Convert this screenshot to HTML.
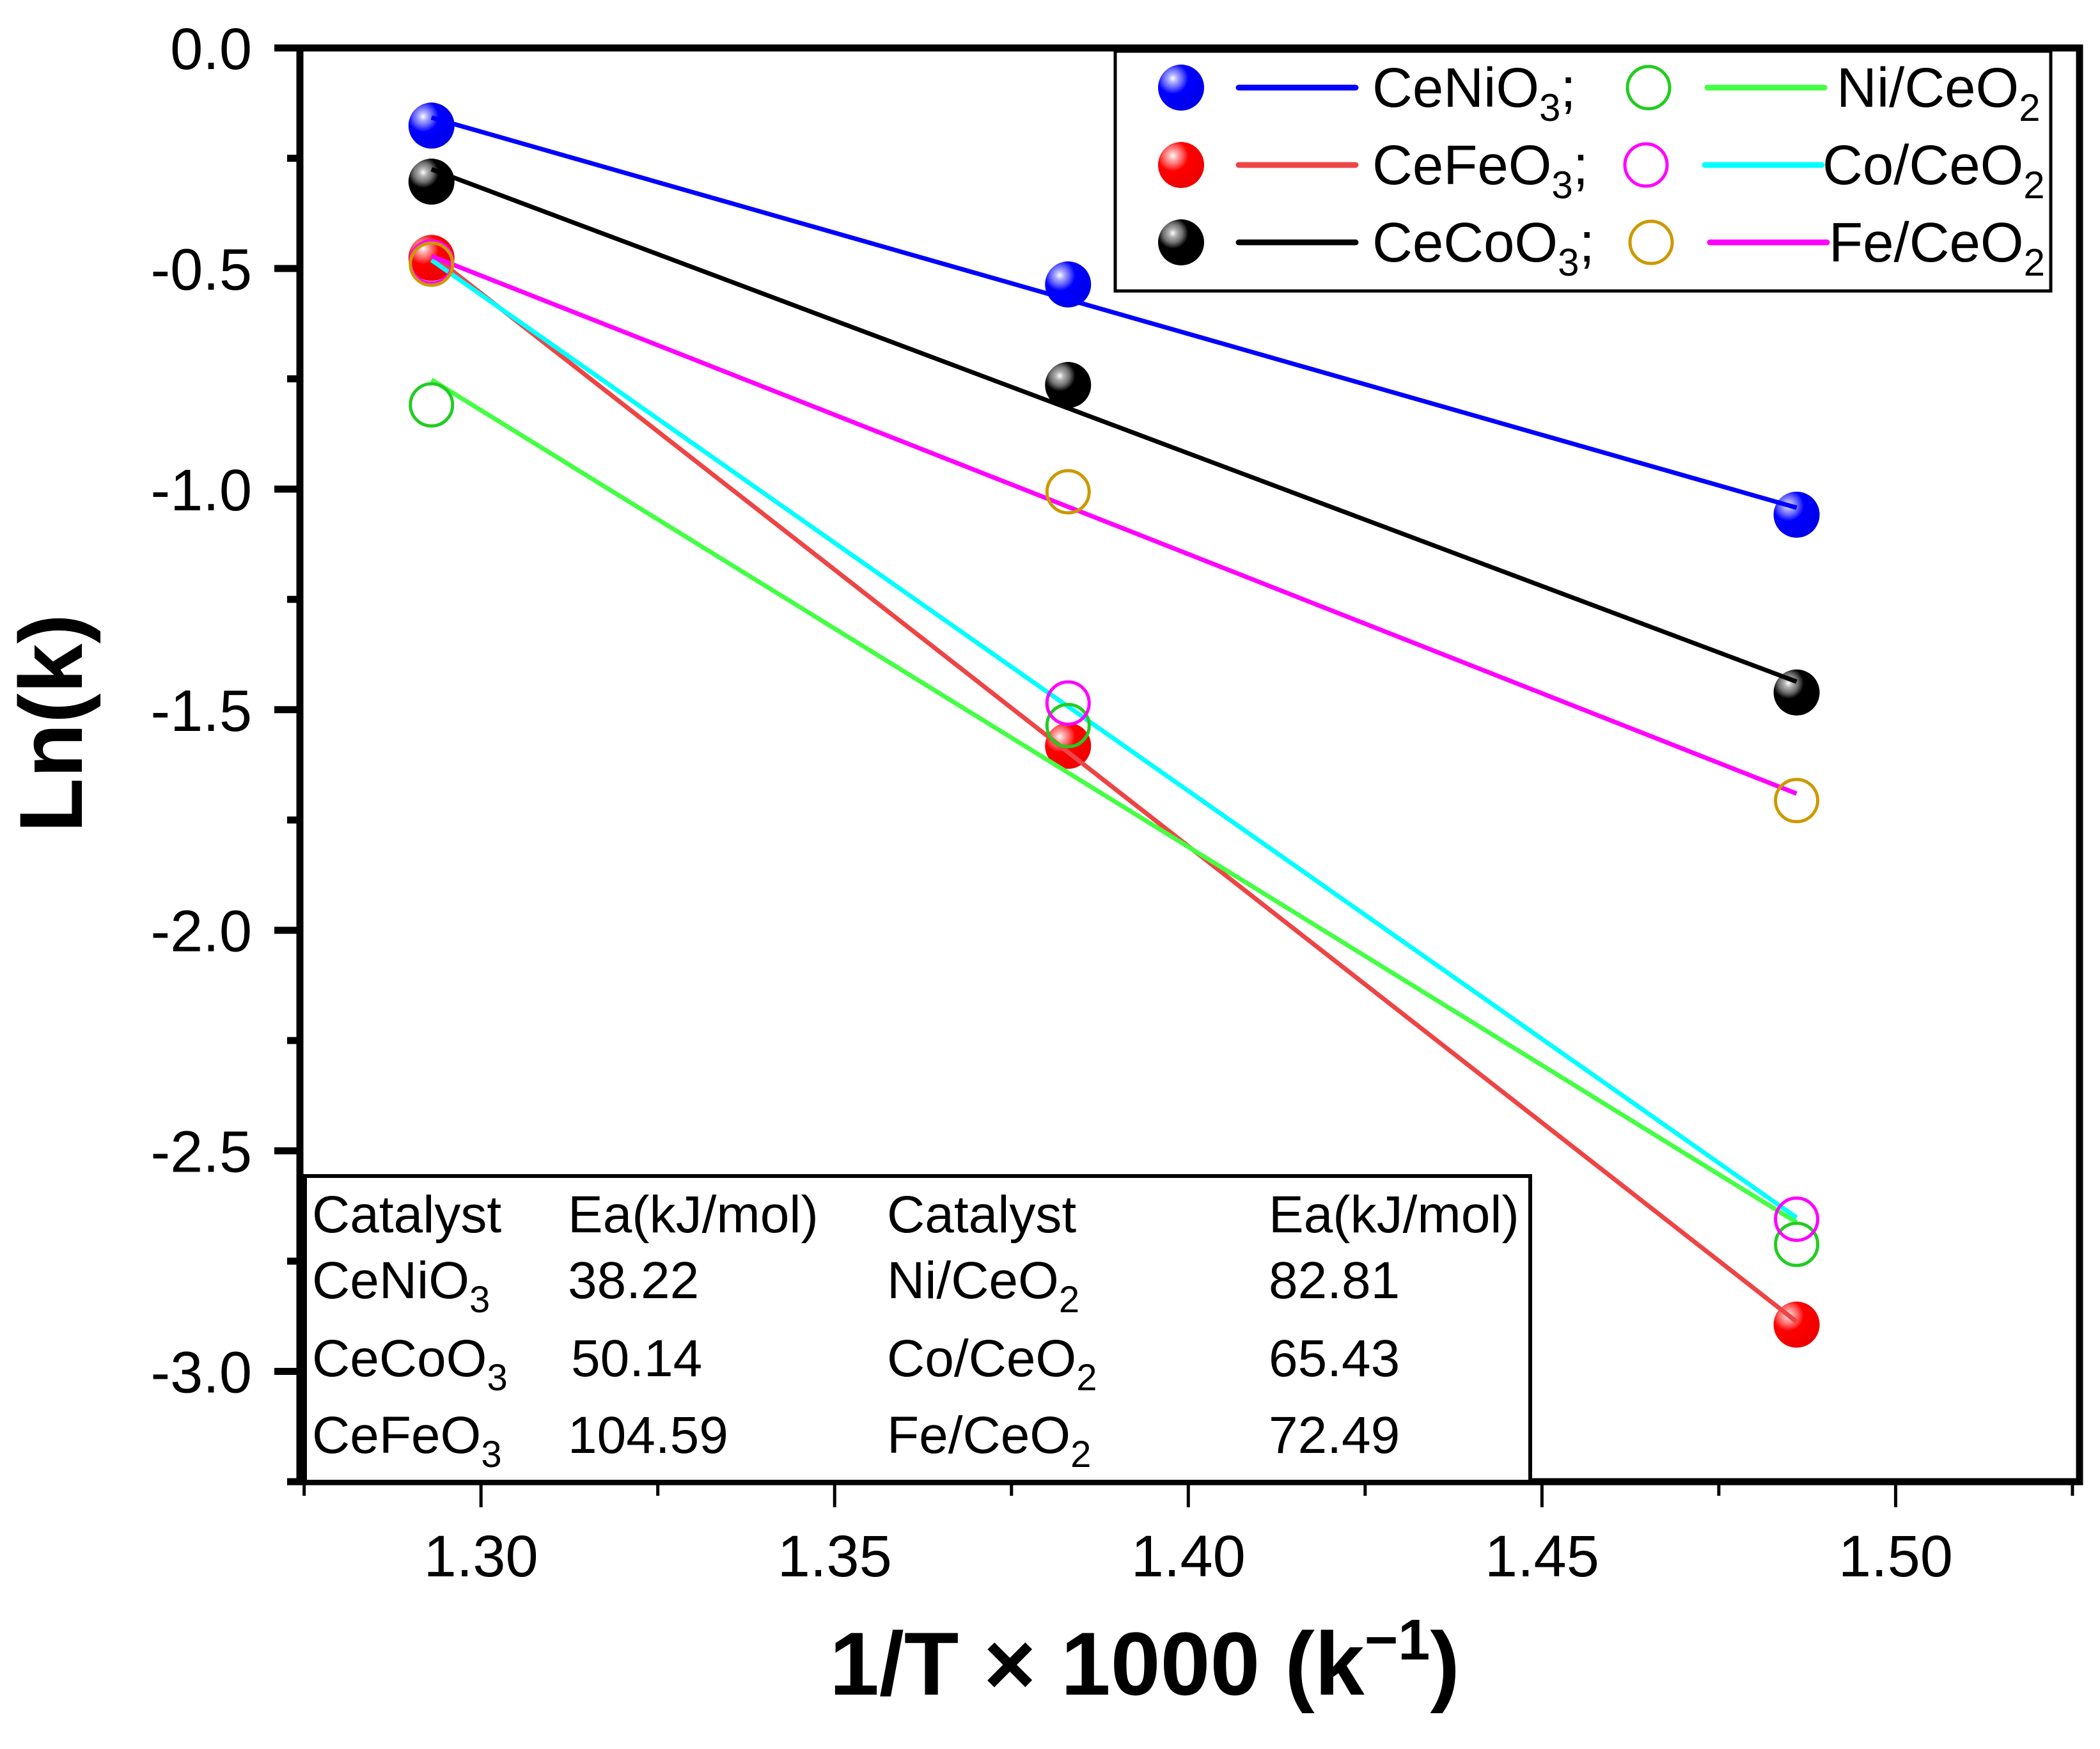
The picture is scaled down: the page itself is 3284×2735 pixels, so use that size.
<!DOCTYPE html>
<html><head><meta charset="utf-8"><style>
html,body{margin:0;padding:0;background:#fff}
svg{display:block;font-family:"Liberation Sans",Arial,sans-serif}
</style></head><body>
<svg id="chart" width="3284" height="2735" viewBox="0 0 3284 2735" xmlns="http://www.w3.org/2000/svg">
<defs>
<radialGradient id="gBlue" cx="0.32" cy="0.3" r="0.75"><stop offset="0" stop-color="#fff"/><stop offset="0.12" stop-color="#b0b0ff"/><stop offset="0.28" stop-color="#6060ff"/><stop offset="0.45" stop-color="#0000ff"/><stop offset="1" stop-color="#0000e8"/></radialGradient>
<radialGradient id="gRed" cx="0.32" cy="0.3" r="0.75"><stop offset="0" stop-color="#fff"/><stop offset="0.12" stop-color="#ffb0b0"/><stop offset="0.28" stop-color="#ff6060"/><stop offset="0.45" stop-color="#ff0000"/><stop offset="1" stop-color="#ee0000"/></radialGradient>
<radialGradient id="gBlack" cx="0.32" cy="0.3" r="0.75"><stop offset="0" stop-color="#fff"/><stop offset="0.12" stop-color="#b0b0b0"/><stop offset="0.28" stop-color="#707070"/><stop offset="0.45" stop-color="#000"/><stop offset="1" stop-color="#000"/></radialGradient>
</defs>
<g id="plot"></g>
<g id="axes"></g>
<text x="0" y="0" transform="translate(128,1131) rotate(-90)" text-anchor="middle" font-size="140" font-weight="bold">Ln(k)</text>
<text x="1790" y="2650" text-anchor="middle" font-size="140" font-weight="bold">1/T × 1000 (k<tspan dy="-55" font-size="90">−1</tspan><tspan dy="55">)</tspan></text>

<g font-size="82">
<rect x="477" y="1839" width="1916" height="478" fill="#fff" stroke="#000" stroke-width="6"/>
<text x="488" y="1927">Catalyst</text><text x="888" y="1927">Ea(kJ/mol)</text><text x="1387" y="1927">Catalyst</text><text x="1984" y="1927">Ea(kJ/mol)</text>
<text x="488" y="2030">CeNiO<tspan dy="22" font-size="58">3</tspan></text><text x="888" y="2030">38.22</text><text x="1387" y="2030">Ni/CeO<tspan dy="22" font-size="58">2</tspan></text><text x="1984" y="2030">82.81</text>
<text x="488" y="2152">CeCoO<tspan dy="22" font-size="58">3</tspan></text><text x="893" y="2152">50.14</text><text x="1387" y="2152">Co/CeO<tspan dy="22" font-size="58">2</tspan></text><text x="1984" y="2152">65.43</text>
<text x="488" y="2272">CeFeO<tspan dy="22" font-size="58">3</tspan></text><text x="888" y="2272">104.59</text><text x="1387" y="2272">Fe/CeO<tspan dy="22" font-size="58">2</tspan></text><text x="1984" y="2272">72.49</text>
</g>

<g font-size="87">
<rect x="1744" y="80" width="1463" height="375" fill="#fff" stroke="#000" stroke-width="5"/>
<g><circle cx="1847" cy="137" r="36" fill="url(#gBlue)"/><line x1="1937" y1="137" x2="2120" y2="137" stroke="#0000ff" stroke-width="9" stroke-linecap="round"/><text x="2146" y="167">CeNiO<tspan dy="22" font-size="60">3</tspan><tspan dy="-22">;</tspan></text></g>
<g><circle cx="1847" cy="258" r="36" fill="url(#gRed)"/><line x1="1937" y1="258" x2="2120" y2="258" stroke="#ee4444" stroke-width="9" stroke-linecap="round"/><text x="2146" y="288">CeFeO<tspan dy="22" font-size="60">3</tspan><tspan dy="-22">;</tspan></text></g>
<g><circle cx="1847" cy="379" r="36" fill="url(#gBlack)"/><line x1="1937" y1="379" x2="2120" y2="379" stroke="#000" stroke-width="9" stroke-linecap="round"/><text x="2146" y="409">CeCoO<tspan dy="22" font-size="60">3</tspan><tspan dy="-22">;</tspan></text></g>
<g><circle cx="2578" cy="137" r="33" fill="none" stroke="#22cc22" stroke-width="5"/><line x1="2670" y1="137" x2="2853" y2="137" stroke="#44ff44" stroke-width="9" stroke-linecap="round"/><text x="2872" y="167">Ni/CeO<tspan dy="22" font-size="60">2</tspan></text></g>
<g><circle cx="2574" cy="258" r="33" fill="none" stroke="#ff00ff" stroke-width="5"/><line x1="2666" y1="258" x2="2849" y2="258" stroke="#00ffff" stroke-width="9" stroke-linecap="round"/><text x="2850" y="288">Co/CeO<tspan dy="22" font-size="60">2</tspan></text></g>
<g><circle cx="2582" cy="379" r="33" fill="none" stroke="#cc9900" stroke-width="5"/><line x1="2674" y1="379" x2="2857" y2="379" stroke="#ff00ff" stroke-width="9" stroke-linecap="round"/><text x="2860" y="409">Fe/CeO<tspan dy="22" font-size="60">2</tspan></text></g>
</g>
</svg>
<script>
const xTicks = [1.30, 1.35, 1.40, 1.45, 1.50];
const yTicks = [0.0, -0.5, -1.0, -1.5, -2.0, -2.5, -3.0];
const xTickLabels = ["1.30","1.35","1.40","1.45","1.50"];
const yTickLabels = ["0.0","-0.5","-1.0","-1.5","-2.0","-2.5","-3.0"];
const invT = [1.293, 1.383, 1.486];
const seriesNames = ["CeNiO3","CeCoO3","CeFeO3","NiCeO2","CoCeO2","FeCeO2"];
const lnkCeNiO3 = [-0.176, -0.536, -1.058];
const lnkCeCoO3 = [-0.303, -0.764, -1.461];
const lnkCeFeO3 = [-0.476, -1.582, -2.894];
const lnkNiCeO2 = [-0.809, -1.536, -2.712];
const lnkCoCeO2 = [-0.485, -1.485, -2.655];
const lnkFeCeO2 = [-0.490, -1.006, -1.706];

const X0=469, X1=3252, XMIN=1.2744, XMAX=1.526;
const Y0=75, Y1=2317, YMAX=0, YMIN=-3.25;
const sx=v=>X0+(v-XMIN)/(XMAX-XMIN)*(X1-X0);
const sy=v=>Y0+(YMAX-v)/(YMAX-YMIN)*(Y1-Y0);
const NS="http://www.w3.org/2000/svg";
function mk(tag,attrs,parent){const e=document.createElementNS(NS,tag);for(const k in attrs)e.setAttribute(k,attrs[k]);parent.appendChild(e);return e;}
const plot=document.getElementById('plot'), axes=document.getElementById('axes');

function fit(ys){const n=invT.length;let mx=0,my=0;for(let i=0;i<n;i++){mx+=invT[i];my+=ys[i];}mx/=n;my/=n;let a=0,b=0;for(let i=0;i<n;i++){a+=(invT[i]-mx)*(ys[i]-my);b+=(invT[i]-mx)**2;}const s=a/b;return [s,my-s*mx];}
const series=[
 {name:'cenio3',d:lnkCeNiO3,line:'#0000ff',m:'ball',g:'gBlue'},
 {name:'cecoo3',d:lnkCeCoO3,line:'#000000',m:'ball',g:'gBlack'},
 {name:'cefeo3',d:lnkCeFeO3,line:'#ee4444',m:'ball',g:'gRed'},
 {name:'ni-ceo2',d:lnkNiCeO2,line:'#44ff44',m:'open',c:'#22cc22'},
 {name:'co-ceo2',d:lnkCoCeO2,line:'#00ffff',m:'open',c:'#ff00ff'},
 {name:'fe-ceo2',d:lnkFeCeO2,line:'#ff00ff',m:'open',c:'#cc9900'}];
series.filter(s=>s.m==='ball').forEach(s=>{s.d.forEach((v,i)=>{const c=mk('circle',{cx:sx(invT[i]),cy:sy(v),r:36,fill:'url(#'+s.g+')'},plot);

});});
series.forEach(s=>{const [m,b]=fit(s.d);const xa=invT[0],xb=invT[invT.length-1];
const l=mk('line',{x1:sx(xa),y1:sy(m*xa+b),x2:sx(xb),y2:sy(m*xb+b),stroke:s.line,'stroke-width':7},plot);

});
series.filter(s=>s.m==='open').forEach(s=>{s.d.forEach((v,i)=>{const c=mk('circle',{cx:sx(invT[i]),cy:sy(v),r:33,fill:'none',stroke:s.c,'stroke-width':5},plot);

});});

const fr=mk('rect',{x:X0,y:Y0,width:X1-X0,height:Y1-Y0,fill:'none',stroke:'#000','stroke-width':11},axes);


for(let v=0;v>=YMIN-1e-9;v-=0.25){const major=Math.abs(v*2-Math.round(v*2))<1e-6;
const t=mk('line',{x1:X0-(major?40:20),y1:sy(v),x2:X0,y2:sy(v),stroke:'#000','stroke-width':11},axes);

}
yTicks.forEach((v,i)=>{const t=mk('text',{x:394,y:sy(v)+33,'text-anchor':'end','font-size':92},axes);t.textContent=yTickLabels[i];

});
for(let k=0;k<=10;k++){const v=1.275+k*0.025;const major=(k%2===1);
const t=mk('line',{x1:sx(v),y1:Y1,x2:sx(v),y2:Y1+(major?40:22),stroke:'#000','stroke-width':5},axes);

}
xTicks.forEach((v,i)=>{const t=mk('text',{x:sx(v),y:2465,'text-anchor':'middle','font-size':92},axes);t.textContent=xTickLabels[i];

});
</script>
</body></html>
